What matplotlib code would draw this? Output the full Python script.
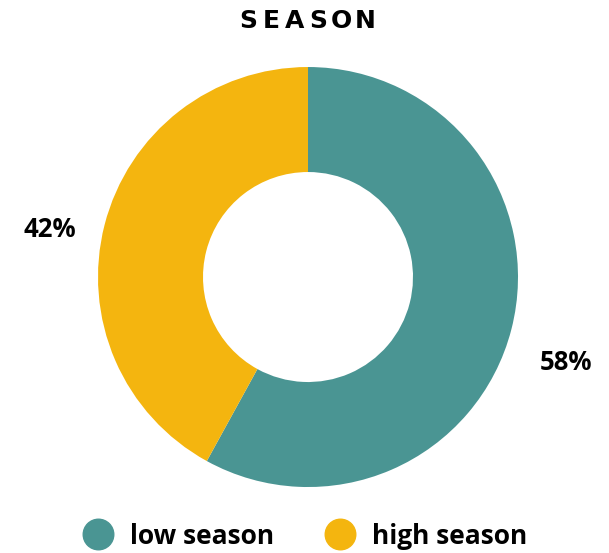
import matplotlib.pyplot as plt
from matplotlib.lines import Line2D

# datos
categorias = ['low season', 'high season']
valores = [58, 42]
colores = ['#4a9593', '#f4b50f']
titulo = 'SEASON'

fig = plt.figure(figsize=(6.09, 5.53), dpi=100)
ax = fig.add_axes([0.1609, 0.1193, 0.6897, 0.7595])

wedges, textos, pcts = ax.pie(valores, colors=colores, startangle=90, counterclock=False,
                              radius=1, wedgeprops=dict(width=0.5, linewidth=0),
                              autopct='%d%%', pctdistance=1.27)
for p in pcts:
    x, y = p.get_position()
    p.set_position((x, y - 0.09))
    p.set_fontfamily('Open Sans')
    p.set_fontweight('bold')
    p.set_fontsize(18.5)
    p.set_color('black')
ax.set_xlim(-1, 1)
ax.set_ylim(-1, 1)
ax.set_aspect('equal')

# titulo con espaciado entre letras
x0, paso = 248 / 609, 23.4 / 609
for i, letra in enumerate(titulo):
    fig.text(x0 + i * paso, 1 - 21 / 553, letra, ha='center', va='center',
             fontsize=18, fontweight='heavy', family='DejaVu Sans', color='black')

handles = [Line2D([], [], marker='o', linestyle='', markersize=22, color=c) for c in colores]
fig.legend(handles, categorias, loc='center', bbox_to_anchor=(0.5, 1 - 536 / 553), ncol=2,
           frameon=False, handletextpad=0.6, columnspacing=1.9, handlelength=1.2,
           prop={'family': 'Open Sans', 'weight': 'bold', 'size': 19})

fig.savefig('out.png', dpi=100)
